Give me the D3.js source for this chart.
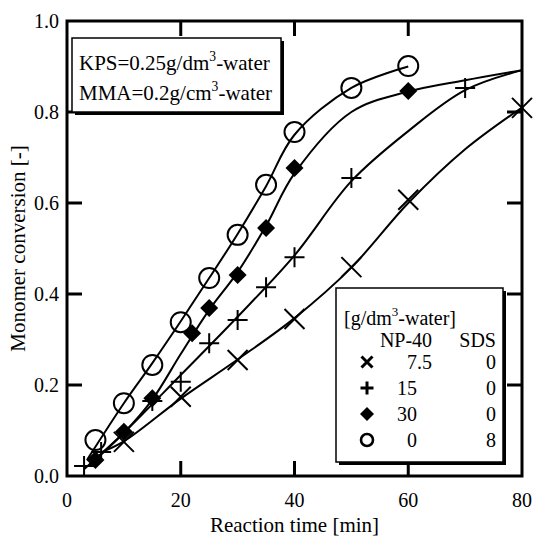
<!DOCTYPE html>
<html>
<head>
<meta charset="utf-8">
<script src="https://cdn.jsdelivr.net/npm/d3@7"></script>
<style>
  body { margin: 0; background: #fff; }
  text { font-family: "Liberation Serif", "Times New Roman", serif; fill: #000; }
</style>
</head>
<body>
<div id="chart"></div>
<script>
// measured points: NP-40 7.5 (x), NP-40 15 (+), NP-40 30 (diamond), SDS 8 (circle)
const crossT = [10, 20, 30, 40, 50, 60, 80];
const crossY = [0.075, 0.174, 0.255, 0.345, 0.459, 0.607, 0.809];
const plusT = [3, 6, 15, 20, 25, 30, 35, 40, 50, 70];
const plusY = [0.022, 0.053, 0.165, 0.207, 0.292, 0.343, 0.415, 0.481, 0.655, 0.853];
const diamondT = [5, 10, 15, 22, 25, 30, 35, 40, 60];
const diamondY = [0.035, 0.097, 0.171, 0.314, 0.369, 0.442, 0.545, 0.677, 0.846];
const circleT = [5, 10, 15, 20, 25, 30, 35, 40, 50, 60];
const circleY = [0.079, 0.160, 0.244, 0.338, 0.435, 0.530, 0.640, 0.756, 0.853, 0.901];

// model curves
const crossFitT = [6, 10, 20, 30, 40, 50, 60, 70, 80];
const crossFitY = [0.052, 0.076, 0.17, 0.256, 0.347, 0.458, 0.6, 0.718, 0.81];
const plusFitT = [3, 10, 20, 30, 40, 50, 60, 70, 80];
const plusFitY = [0.015, 0.095, 0.222, 0.35, 0.485, 0.648, 0.758, 0.848, 0.892];
const diamondFitT = [4, 10, 15, 20, 25, 30, 35, 40, 50, 60, 70, 80];
const diamondFitY = [0.025, 0.095, 0.168, 0.268, 0.365, 0.448, 0.55, 0.665, 0.8, 0.845, 0.87, 0.892];
const circleFitT = [3.5, 10, 15, 20, 25, 30, 35, 40, 50, 60];
const circleFitY = [0.035, 0.16, 0.248, 0.34, 0.435, 0.532, 0.637, 0.75, 0.853, 0.9];

const np40Labels = ["7.5", "15", "30", "0"];
const sdsLabels = ["0", "0", "0", "8"];
const xTicks = [0, 20, 40, 60, 80];
const yTicks = [0, 0.2, 0.4, 0.6, 0.8, 1.0];

const width = 534, height = 541;
const margin = { top: 21, right: 12, bottom: 65, left: 67 };

const svg = d3.select("#chart").append("svg")
    .attr("width", width)
    .attr("height", height);

const x = d3.scaleLinear().domain([0, 80]).range([margin.left, width - margin.right]);
const y = d3.scaleLinear().domain([0, 1]).range([height - margin.bottom, margin.top]);

const zip = (a, b) => a.map((v, i) => [v, b[i]]);
const series = [
    { type: "cross", pts: zip(crossT, crossY), fit: zip(crossFitT, crossFitY) },
    { type: "plus", pts: zip(plusT, plusY), fit: zip(plusFitT, plusFitY) },
    { type: "diamond", pts: zip(diamondT, diamondY), fit: zip(diamondFitT, diamondFitY) },
    { type: "circle", pts: zip(circleT, circleY), fit: zip(circleFitT, circleFitY) }
];

function markPath(type, s) {
    if (type === "cross") return `M${-s},${-s}L${s},${s}M${-s},${s}L${s},${-s}`;
    if (type === "plus") return `M${-s},0H${s}M0,${-s}V${s}`;
    if (type === "diamond") return `M0,${-s}L${s},0L0,${s}L${-s},0Z`;
    return null;
}

function drawMark(g, type, cx, cy, big) {
    if (type === "circle") {
        g.append("circle").attr("cx", cx).attr("cy", cy)
            .attr("r", big ? 10 : 6)
            .attr("fill", "none").attr("stroke", "#000")
            .attr("stroke-width", big ? 2 : 2.6);
        return;
    }
    const sz = { cross: big ? 10 : 5.5, plus: big ? 10 : 6.5, diamond: big ? 9 : 7 }[type];
    g.append("path")
        .attr("transform", `translate(${cx},${cy})`)
        .attr("d", markPath(type, sz))
        .attr("fill", type === "diamond" ? "#000" : "none")
        .attr("stroke", "#000")
        .attr("stroke-width", type === "diamond" ? 0 : (big ? 2 : 3));
}

// fitted curves
const line = d3.line().x(d => x(d[0])).y(d => y(d[1])).curve(d3.curveCatmullRom.alpha(0.5));
series.forEach(s => {
    svg.append("path").attr("d", line(s.fit))
        .attr("fill", "none").attr("stroke", "#000").attr("stroke-width", 2);
});

// markers
const marks = svg.append("g");
series.forEach(s => {
    s.pts.forEach(p => drawMark(marks, s.type, x(p[0]), y(p[1]), true));
});

// frame and inward ticks on all sides
const x0 = x(0), x1 = x(80), y0 = y(0), y1 = y(1);
const tickLen = 15;
const axes = svg.append("g").attr("stroke", "#000").attr("stroke-width", 3);
xTicks.slice(1, -1).forEach(t => {
    axes.append("line").attr("x1", x(t)).attr("x2", x(t)).attr("y1", y0).attr("y2", y0 - tickLen);
    axes.append("line").attr("x1", x(t)).attr("x2", x(t)).attr("y1", y1).attr("y2", y1 + tickLen);
});
yTicks.slice(1, -1).forEach(t => {
    axes.append("line").attr("x1", x0).attr("x2", x0 + tickLen).attr("y1", y(t)).attr("y2", y(t));
    axes.append("line").attr("x1", x1).attr("x2", x1 - tickLen).attr("y1", y(t)).attr("y2", y(t));
});
axes.append("rect").attr("x", x0).attr("y", y1).attr("width", x1 - x0).attr("height", y0 - y1)
    .attr("fill", "none").attr("stroke-linejoin", "miter");

// tick labels
svg.append("g").selectAll("text").data(xTicks).join("text")
    .attr("x", d => x(d)).attr("y", y0 + 31)
    .attr("text-anchor", "middle").attr("font-size", 20)
    .text(d => d);
svg.append("g").selectAll("text").data(yTicks).join("text")
    .attr("x", x0 - 8).attr("y", d => y(d) + 7)
    .attr("text-anchor", "end").attr("font-size", 20)
    .text(d => d3.format(".1f")(d));

// axis titles
svg.append("text").attr("x", (x0 + x1) / 2).attr("y", 532)
    .attr("text-anchor", "middle").attr("font-size", 21)
    .text("Reaction time [min]");
svg.append("text")
    .attr("transform", `translate(25,${(y0 + y1) / 2}) rotate(-90)`)
    .attr("text-anchor", "middle").attr("font-size", 21)
    .text("Monomer conversion [-]");

// boxes with drop shadow
function shadowBox(bx, by, bw, bh) {
    svg.append("rect").attr("x", bx + 3).attr("y", by + 3).attr("width", bw).attr("height", bh).attr("fill", "#000");
    svg.append("rect").attr("x", bx).attr("y", by).attr("width", bw).attr("height", bh)
        .attr("fill", "#fff").attr("stroke", "#000").attr("stroke-width", 1.5);
}

function supText(parent, tx, ty, size, before, after, anchor) {
    const t = parent.append("text").attr("x", tx).attr("y", ty).attr("font-size", size)
        .attr("text-anchor", anchor || "start");
    t.append("tspan").text(before);
    t.append("tspan").attr("dy", -9).attr("font-size", size * 0.65).text("3");
    t.append("tspan").attr("dy", 9).text(after);
    return t;
}

// condition box
shadowBox(72, 38, 209, 74);
supText(svg, 79, 70, 21, "KPS=0.25g/dm", "-water");
supText(svg, 79, 100, 21, "MMA=0.2g/cm", "-water");

// legend
shadowBox(336, 288, 167, 174);
supText(svg, 344, 325, 20, "[g/dm", "-water]");
svg.append("text").attr("x", 406).attr("y", 347).attr("text-anchor", "middle").attr("font-size", 20).text("NP-40");
svg.append("text").attr("x", 496).attr("y", 347).attr("text-anchor", "end").attr("font-size", 20).text("SDS");
const legG = svg.append("g");
series.forEach((s, i) => {
    const ry = 369 + i * 26;
    drawMark(legG, s.type, 367, ry - 7, false);
    const lab = np40Labels[i];
    legG.append("text").attr("x", lab.includes(".") ? 432 : 417).attr("y", ry)
        .attr("text-anchor", "end").attr("font-size", 20).text(lab);
    legG.append("text").attr("x", 496).attr("y", ry)
        .attr("text-anchor", "end").attr("font-size", 20).text(sdsLabels[i]);
});
</script>
</body>
</html>
